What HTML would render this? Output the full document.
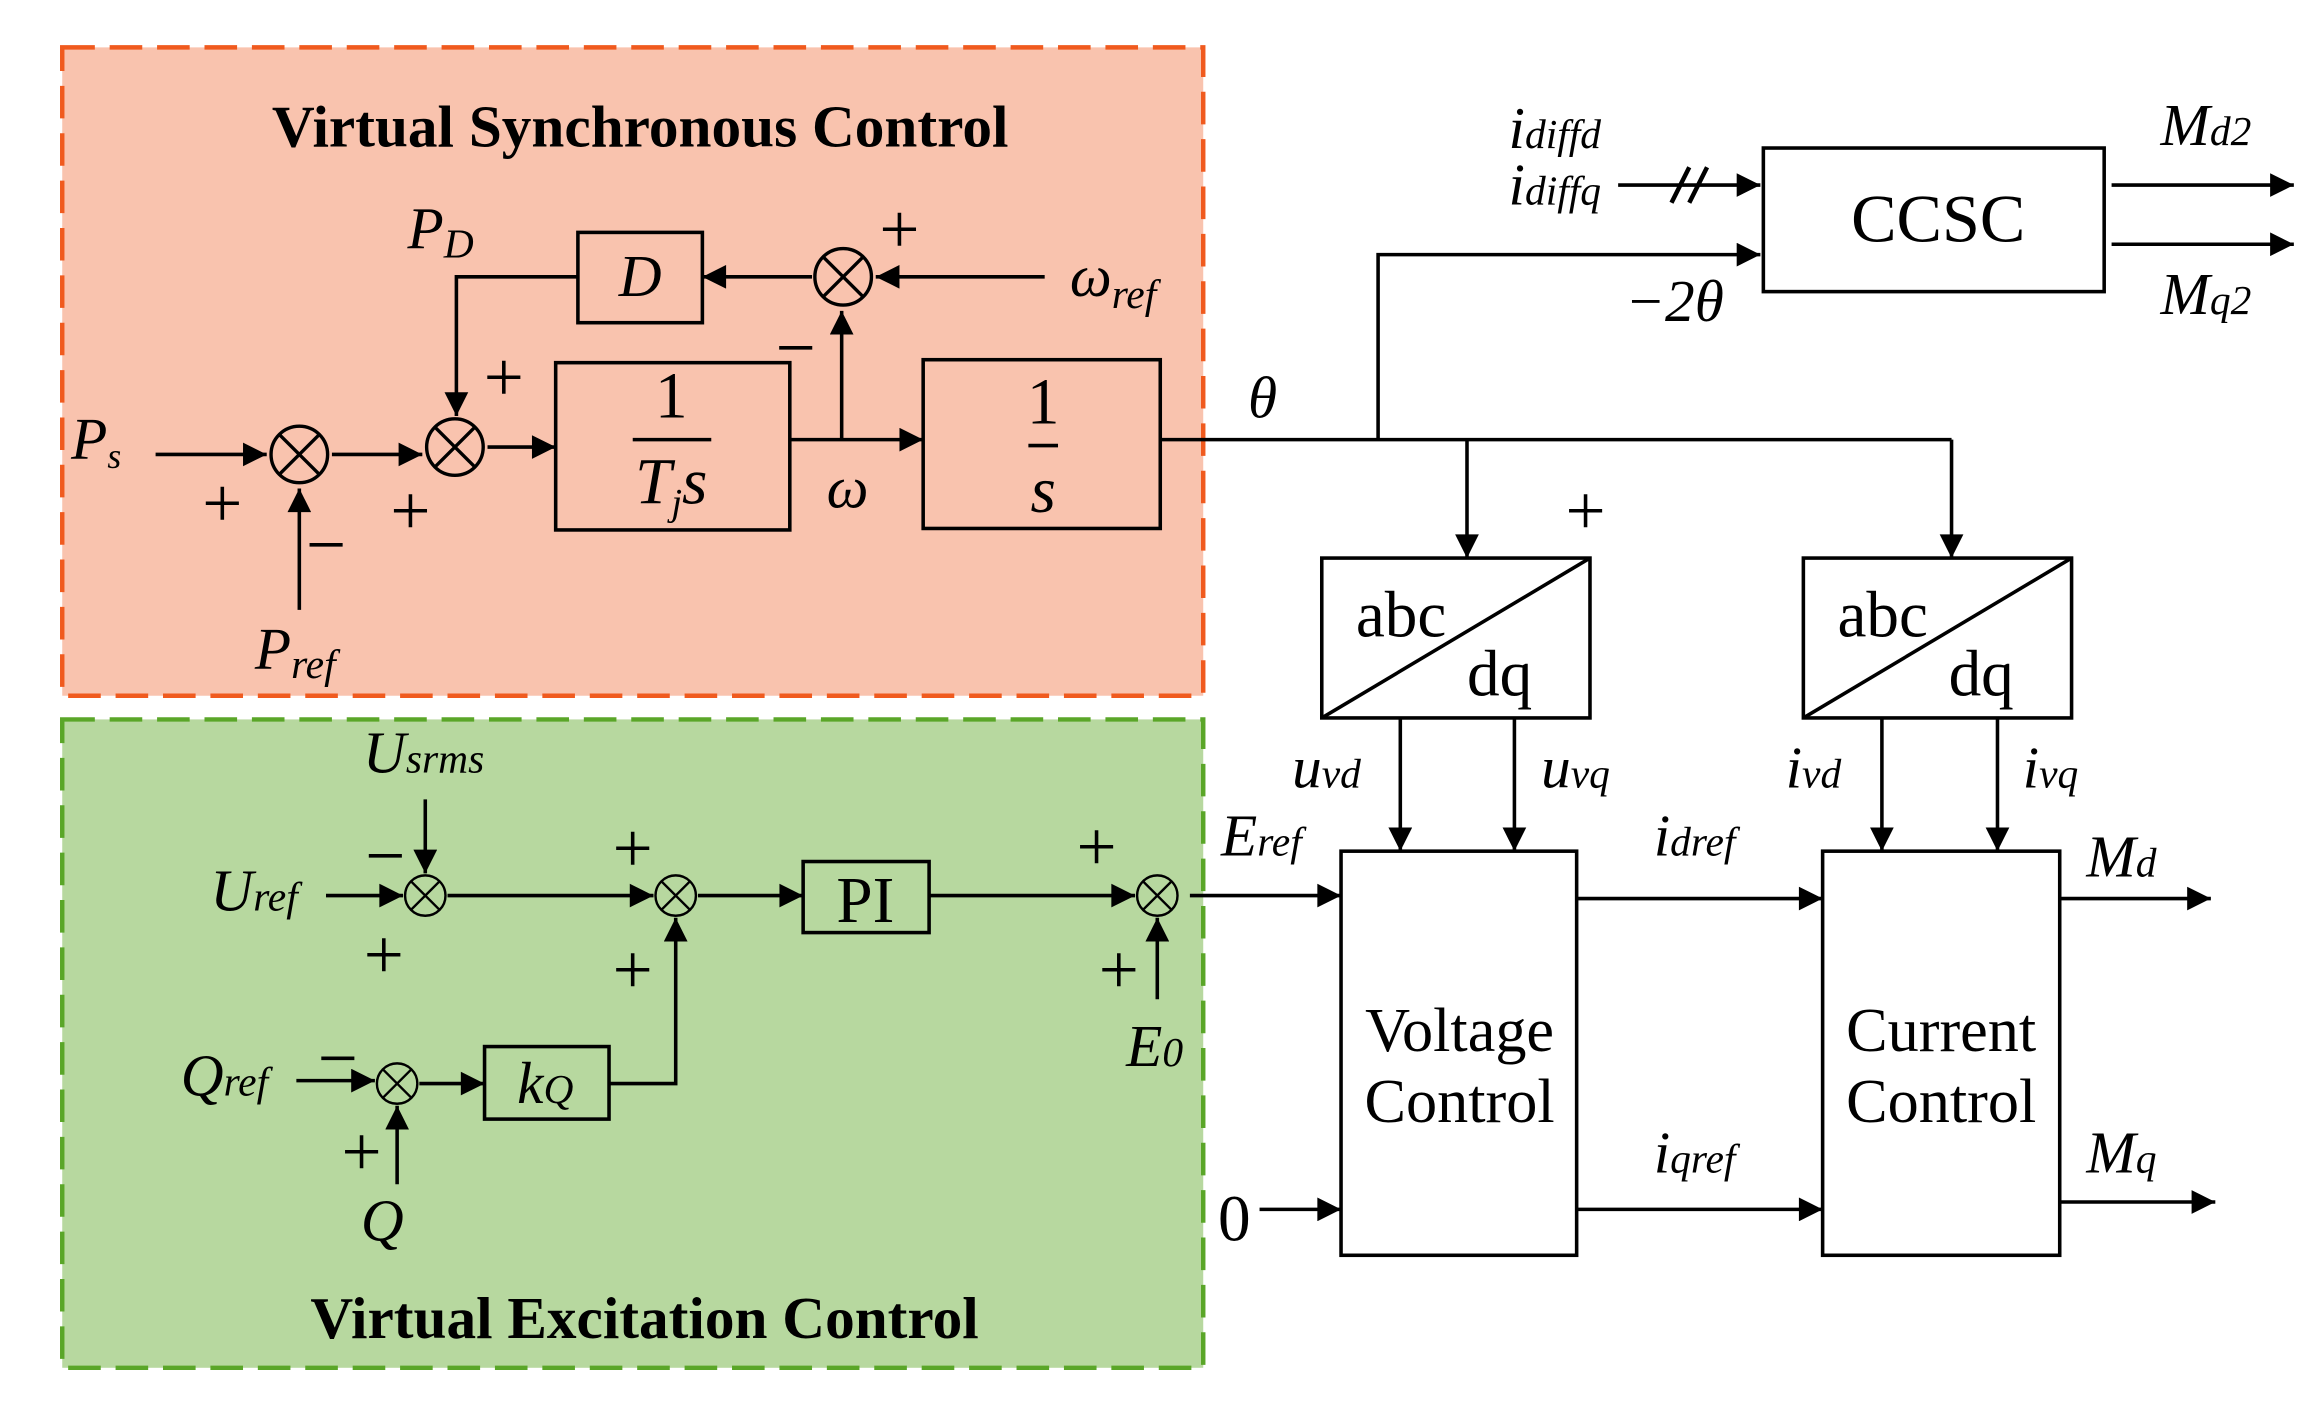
<!DOCTYPE html>
<html><head><meta charset="utf-8"><style>
html,body{margin:0;padding:0;background:#fff}
svg{display:block}
text{font-family:"Liberation Serif",serif;fill:#000}
.i{font-style:italic}
</style></head><body>
<svg width="2322" height="1427" viewBox="0 0 1567 964" preserveAspectRatio="none" xmlns="http://www.w3.org/2000/svg">
<defs>
<marker id="b" viewBox="0 0 10 10" refX="10" refY="5" markerWidth="20" markerHeight="16" orient="auto" markerUnits="userSpaceOnUse"><path d="M0,0L10,5L0,10z" fill="#000"/></marker>
<symbol id="s" viewBox="-22 -22 44 44" overflow="visible"><circle r="20" fill="none" stroke="#000" stroke-width="2.4"/><path d="M-14,-14L14,14M14,-14L-14,14" stroke="#000" stroke-width="2.4"/></symbol>
</defs>
<rect x="42" y="32" width="770" height="438" fill="#f9c3ae" stroke="#f05a1e" stroke-width="3" stroke-dasharray="22,10"/>
<rect x="42" y="486" width="770" height="438" fill="#b7d89f" stroke="#5aa628" stroke-width="3" stroke-dasharray="22,10"/>
<text x="432" y="99" font-size="40" font-weight="bold" text-anchor="middle">Virtual Synchronous Control</text>
<text x="435" y="904" font-size="40" font-weight="bold" text-anchor="middle">Virtual Excitation Control</text>
<g stroke="#000" stroke-width="2.4" fill="none">
<rect x="375" y="245" width="158" height="113"/>
<rect x="623" y="243" width="160" height="114"/>
<rect x="390" y="157" width="84" height="61"/>
<rect x="1190" y="100" width="230" height="97"/>
<rect x="892" y="377" width="181" height="108"/><path d="M892,485L1073,377"/>
<rect x="1217" y="377" width="181" height="108"/><path d="M1217,485L1398,377"/>
<rect x="905" y="575" width="159" height="273"/>
<rect x="1230" y="575" width="160" height="273"/>
<rect x="542" y="582" width="85" height="48"/>
<rect x="327" y="707" width="84" height="49"/>
<g marker-end="url(#b)">
<path d="M105,307H180"/><path d="M202,412V330"/><path d="M224,307H285"/><path d="M329,302H375"/>
<path d="M533,297H623"/><path d="M568,297V210"/><path d="M705,187H591"/><path d="M548,187H474"/>
<path d="M390,187H308V281"/>
<path d="M930,297V172H1188"/><path d="M1092,125H1188"/>
<path d="M1425,125H1548"/><path d="M1425,165H1548"/>
<path d="M990,297V377"/><path d="M1317,297V377"/>
<path d="M945,485V575"/><path d="M1022,485V575"/><path d="M1270,485V575"/><path d="M1348,485V575"/>
<path d="M1064,607H1230"/><path d="M1064,817H1230"/>
<path d="M1390,607H1492"/><path d="M1390,812H1495"/>
<path d="M803,605H905"/><path d="M850,817H905"/>
<path d="M287,540V590"/><path d="M220,605H272"/><path d="M302,605H441"/><path d="M471,605H542"/>
<path d="M627,605H766"/><path d="M781,675V620"/>
<path d="M200,730H253"/><path d="M268,800V747"/><path d="M283,732H327"/><path d="M411,732H456V620"/>
</g>
<path d="M783,297H1317"/>
<path d="M1128,137L1140,113M1140,137L1152,113" stroke-width="3"/>
</g>
<use href="#s" x="181" y="286" width="42" height="42"/>
<use href="#s" x="286" y="281" width="42" height="42"/>
<use href="#s" x="548" y="166" width="42" height="42"/>
<use href="#s" x="272" y="590" width="30" height="30"/>
<use href="#s" x="441" y="590" width="30" height="30"/>
<use href="#s" x="766" y="590" width="30" height="30"/>
<use href="#s" x="253" y="717" width="30" height="30"/>
<g font-size="48">
<text x="150" y="356" text-anchor="middle">+</text>
<text x="220" y="384" text-anchor="middle">−</text>
<text x="277" y="361" text-anchor="middle">+</text>
<text x="340" y="271" text-anchor="middle">+</text>
<text x="537" y="251" text-anchor="middle">−</text>
<text x="607" y="171" text-anchor="middle">+</text>
<text x="1070" y="361" text-anchor="middle">+</text>
<text x="260" y="594" text-anchor="middle">−</text>
<text x="259" y="661" text-anchor="middle">+</text>
<text x="427" y="589" text-anchor="middle">+</text>
<text x="427" y="671" text-anchor="middle">+</text>
<text x="740" y="588" text-anchor="middle">+</text>
<text x="755" y="671" text-anchor="middle">+</text>
<text x="228" y="731" text-anchor="middle">−</text>
<text x="244" y="794" text-anchor="middle">+</text>
</g>
<g font-size="40" class="i">
<text x="48" y="310" class="i">P<tspan font-size="24" dy="6">s</tspan></text>
<text x="172" y="452" class="i">P<tspan font-size="28" dy="6">ref</tspan></text>
<text x="275" y="168" class="i">P<tspan font-size="28" dy="6">D</tspan></text>
<text x="432" y="200" text-anchor="middle" class="i">D</text>
<text x="722" y="200" class="i">ω<tspan font-size="28" dy="8">ref</tspan></text>
<text x="572" y="343" text-anchor="middle" class="i">ω</text>
<text x="852" y="282" text-anchor="middle" class="i">θ</text>
<text x="1130" y="217" text-anchor="middle" class="i">−2θ</text>
<text x="1018" y="100" class="i">i<tspan font-size="28">diffd</tspan></text>
<text x="1018" y="138" class="i">i<tspan font-size="28">diffq</tspan></text>
<text x="1458" y="98" class="i">M<tspan font-size="28">d2</tspan></text>
<text x="1458" y="212" class="i">M<tspan font-size="28">q2</tspan></text>
<text x="872" y="532" class="i">u<tspan font-size="28">vd</tspan></text>
<text x="1040" y="532" class="i">u<tspan font-size="28">vq</tspan></text>
<text x="1205" y="532" class="i">i<tspan font-size="28">vd</tspan></text>
<text x="1365" y="532" class="i">i<tspan font-size="28">vq</tspan></text>
<text x="1116" y="578" class="i">i<tspan font-size="28">dref</tspan></text>
<text x="1116" y="792" class="i">i<tspan font-size="28">qref</tspan></text>
<text x="1408" y="592" class="i">M<tspan font-size="28">d</tspan></text>
<text x="1408" y="792" class="i">M<tspan font-size="28">q</tspan></text>
<text x="824" y="578" class="i">E<tspan font-size="28">ref</tspan></text>
<text x="245" y="522" class="i">U<tspan font-size="28">srms</tspan></text>
<text x="142" y="615" class="i">U<tspan font-size="28">ref</tspan></text>
<text x="122" y="740" class="i">Q<tspan font-size="28">ref</tspan></text>
<text x="258" y="838" text-anchor="middle" class="i">Q</text>
<text x="760" y="720" class="i">E<tspan font-size="28">0</tspan></text>
<text x="349" y="745" class="i">k<tspan font-size="28">Q</tspan></text>
</g>
<g font-size="44">
<text x="453" y="282" text-anchor="middle">1</text>
<text x="704" y="286" text-anchor="middle">1</text>
<text x="704" y="346" text-anchor="middle" class="i">s</text>
<text x="453" y="340" text-anchor="middle" class="i">T<tspan font-size="26" dy="8">j</tspan><tspan dy="-8">s</tspan></text>
<text x="1308" y="163" text-anchor="middle" font-size="46">CCSC</text>
<text x="915" y="430">abc</text>
<text x="990" y="470">dq</text>
<text x="1240" y="430">abc</text>
<text x="1315" y="470">dq</text>
<text x="985" y="710" text-anchor="middle" font-size="42">Voltage</text>
<text x="985" y="758" text-anchor="middle" font-size="42">Control</text>
<text x="1310" y="710" text-anchor="middle" font-size="42">Current</text>
<text x="1310" y="758" text-anchor="middle" font-size="42">Control</text>
<text x="584" y="623" text-anchor="middle">PI</text>
<text x="833" y="838" text-anchor="middle">0</text>
</g>
<g stroke="#000" stroke-width="2.4"><path d="M427,297H480"/><path d="M694,301H714"/></g>
</svg>
</body></html>
